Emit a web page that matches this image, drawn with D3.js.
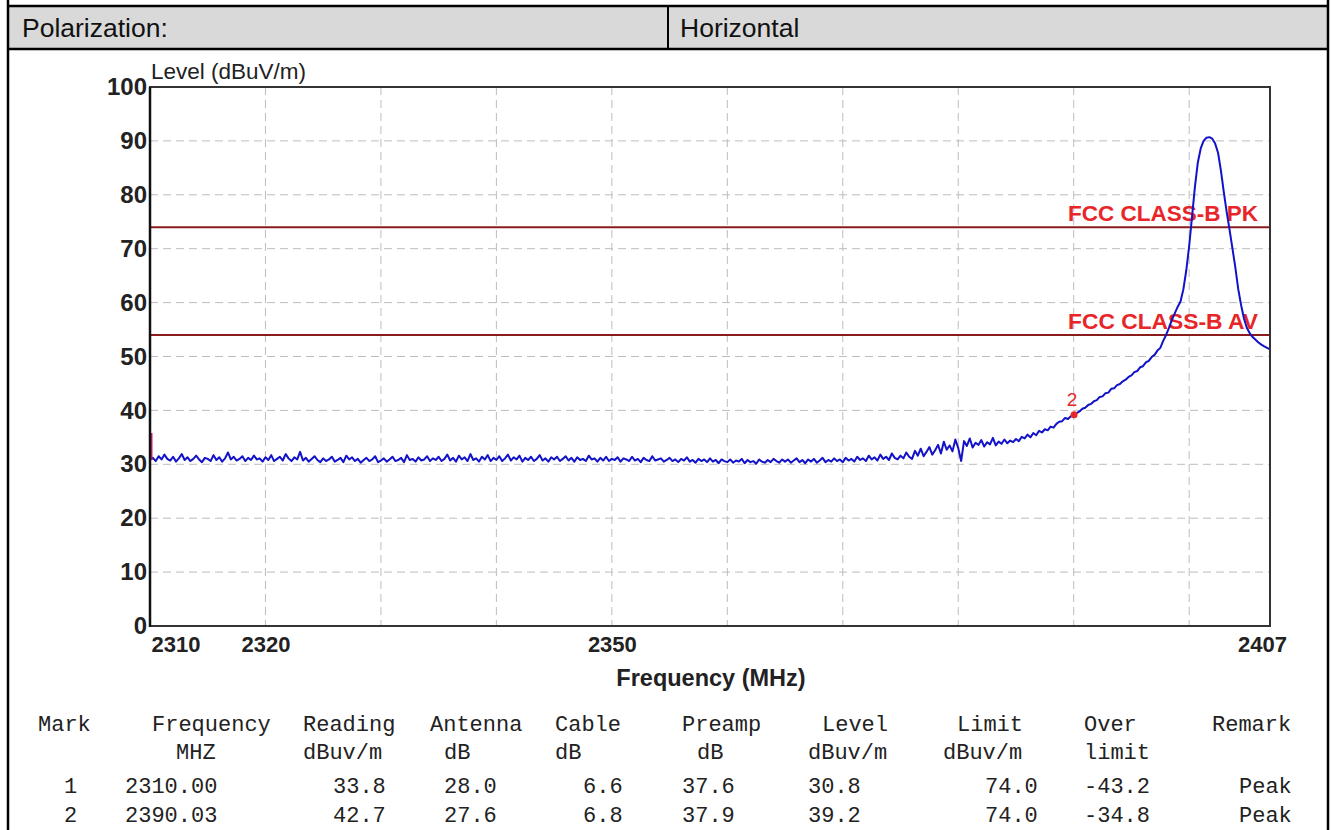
<!DOCTYPE html>
<html>
<head>
<meta charset="utf-8">
<script src="https://cdn.jsdelivr.net/npm/d3@7"></script>
<style>
  body { margin: 0; background: #fff; }
  svg { display: block; }
</style>
</head>
<body>
<svg id="chart" width="1334" height="830"></svg>
<script>
// sweep: 2310 .. 2407 MHz, one reading every 0.25 MHz
const sweepStart = 2310;
const sweepStep = 0.25;
const levels = [
  30.8, 31.2, 30.6, 31.5, 30.9, 31.8, 31.0, 30.7, 31.4, 30.5, 31.1, 31.9, 30.8, 31.3, 30.6, 31.0, 31.6, 30.9, 30.4, 31.2,
  31.0, 30.6, 31.7, 30.8, 31.3, 30.5, 31.1, 32.2, 30.9, 31.4, 30.7, 31.0, 31.5, 30.6, 31.2, 30.8, 31.6, 30.9, 31.1, 30.5,
  31.3, 30.8, 31.7, 30.6, 31.0, 31.4, 30.7, 31.9, 31.1, 30.6, 31.3, 30.9, 32.3, 30.7, 31.2, 30.5, 31.0, 31.5, 30.8, 30.4,
  31.1, 30.6, 30.9, 31.4, 30.5, 30.8, 31.2, 30.4, 31.6, 30.9, 31.3, 30.6, 31.0, 30.3, 30.8, 31.2, 30.6, 30.9, 31.5, 30.4,
  30.7, 31.1, 30.5, 30.9, 31.4, 30.6, 30.8, 31.2, 30.4, 31.7, 30.8, 31.0, 30.5, 31.3, 30.7, 30.9, 31.5, 30.6, 31.1, 30.8,
  31.4, 30.6, 31.0, 31.8, 30.7, 31.2, 30.5, 31.6, 30.9, 31.3, 30.6, 31.9, 30.8, 31.1, 30.5, 31.4, 30.9, 31.7, 30.6, 31.2,
  30.8, 31.5, 30.6, 31.1, 31.8, 30.7, 31.3, 30.9, 31.6, 30.5, 31.2, 30.8, 31.4, 30.6, 31.0, 31.7, 30.7, 31.1, 30.5, 31.3,
  30.9, 31.4, 30.6, 31.0, 31.5, 30.7, 31.2, 30.5, 31.3, 30.8, 31.0, 30.6, 31.6, 30.9, 31.1, 30.5, 31.2, 30.7, 31.4, 30.6,
  31.0, 30.8, 31.3, 30.5, 31.1, 30.9, 30.6, 31.4, 30.7, 31.0, 30.4, 31.2, 30.8, 30.6, 31.5, 30.7, 30.9, 31.1, 30.5, 30.8,
  31.2, 30.6, 30.9, 30.4, 31.0, 30.7, 31.3, 30.5, 30.8, 30.3, 31.0, 30.6, 30.9, 30.4, 31.1, 30.5, 30.8, 30.2, 30.9, 30.6,
  30.4, 30.9, 30.3, 30.7, 30.5, 31.0, 30.2, 30.8, 30.4, 30.6, 30.1, 30.9, 30.5, 30.3, 30.8, 30.4, 31.0, 30.6, 30.3, 30.9,
  30.5, 30.9, 30.3, 30.7, 31.1, 30.4, 30.8, 30.2, 30.9, 30.5, 31.0, 30.3, 30.7, 31.2, 30.4, 30.8, 30.5, 31.1, 30.6, 30.9,
  30.4, 31.2, 30.7, 31.0, 30.5, 31.4, 30.8, 31.1, 30.6, 31.6, 30.9, 31.3, 30.7, 31.8, 31.0, 31.4, 30.8, 32.0, 31.2, 30.9,
  31.6, 31.1, 32.2, 31.4, 31.0, 32.5, 31.6, 32.9, 31.5, 32.3, 33.2, 31.8, 32.6, 33.6, 32.0, 34.2, 32.7, 33.5, 32.4, 34.6,
  33.0, 30.6, 34.3, 33.4, 34.8, 33.1, 34.0, 33.6, 34.5, 33.3, 34.1, 33.7, 34.9, 33.5, 34.2, 33.8, 34.6, 33.9, 34.4, 34.1,
  34.7, 34.3, 35.1, 34.8, 35.5, 35.0, 35.8, 35.4, 36.2, 35.9, 36.5, 36.3, 37.0, 36.8, 37.5, 37.9, 38.0, 38.6, 38.4, 38.9,
  39.2, 39.5, 39.8, 40.3, 40.5, 41.0, 41.2, 41.7, 41.9, 42.5, 42.6, 43.2, 43.3, 44.0, 44.1, 44.7, 44.9, 45.4, 45.7, 46.2,
  46.5, 47.1, 47.3, 48.0, 48.2, 48.9, 49.2, 49.9, 50.3, 51.1, 51.6, 52.9,
  54.0, 55.3, 56.8, 58.0, 59.2, 60.2, 62.5, 66.0, 70.5, 76.0, 81.5, 86.0, 88.6, 90.0, 90.6, 90.7, 90.4, 89.5, 87.8, 84.5,
  80.5, 76.8, 73.5, 70.0, 66.5, 62.5, 59.5, 57.0, 55.3, 54.3, 53.6, 53.1, 52.6, 52.2, 51.9, 51.6, 51.3
];

const yTicks = [0, 10, 20, 30, 40, 50, 60, 70, 80, 90, 100];
const xGrid = [2320, 2330, 2340, 2350, 2360, 2370, 2380, 2390, 2400];
const xTickLabels = [2310, 2320, 2350, 2407];

const limitValues = [74, 54];
const limitNames = ["FCC CLASS-B PK", "FCC CLASS-B AV"];

const markFreq = [2310.00, 2390.03];
const markLevel = [30.8, 39.2];

const headerRow1 = ["Mark", "Frequency", "Reading", "Antenna", "Cable", "Preamp", "Level", "Limit", "Over", "Remark"];
const headerRow2 = ["", "MHZ", "dBuv/m", "dB", "dB", "dB", "dBuv/m", "dBuv/m", "limit", ""];
const tableRows = [
  ["1", "2310.00", "33.8", "28.0", "6.6", "37.6", "30.8", "74.0", "-43.2", "Peak"],
  ["2", "2390.03", "42.7", "27.6", "6.8", "37.9", "39.2", "74.0", "-34.8", "Peak"]
];

const svg = d3.select("#chart");
const W = 1334, H = 830;

// ---- report frame + header row
svg.append("rect").attr("x", 8).attr("y", 6).attr("width", 1320).attr("height", 43).attr("fill", "#d9d9d9");
const frame = svg.append("g").attr("stroke", "#000").attr("stroke-width", 2.5);
frame.append("line").attr("x1", 8).attr("x2", 8).attr("y1", 0).attr("y2", H);
frame.append("line").attr("x1", 1328).attr("x2", 1328).attr("y1", 0).attr("y2", H);
frame.append("line").attr("x1", 8).attr("x2", 1328).attr("y1", 6).attr("y2", 6);
frame.append("line").attr("x1", 8).attr("x2", 1328).attr("y1", 49).attr("y2", 49);
frame.append("line").attr("x1", 668).attr("x2", 668).attr("y1", 6).attr("y2", 49).attr("stroke-width", 2);

svg.append("text").attr("x", 22).attr("y", 37).text("Polarization:")
  .style("font", "26.5px 'Liberation Sans', Arial, sans-serif").attr("fill", "#111");
svg.append("text").attr("x", 680).attr("y", 37).text("Horizontal")
  .style("font", "26.5px 'Liberation Sans', Arial, sans-serif").attr("fill", "#111");

// ---- plot
const x = d3.scaleLinear().domain([2310, 2407]).range([150, 1270]);
const y = d3.scaleLinear().domain([0, 100]).range([626, 87]);

const grid = svg.append("g").attr("stroke", "#bdbdbd").attr("stroke-width", 1).attr("stroke-dasharray", "8,5");
grid.selectAll(".gy").data(yTicks.slice(1, -1)).enter().append("line")
  .attr("x1", x.range()[0]).attr("x2", x.range()[1])
  .attr("y1", d => y(d)).attr("y2", d => y(d));
grid.selectAll(".gx").data(xGrid).enter().append("line")
  .attr("x1", d => x(d)).attr("x2", d => x(d))
  .attr("y1", y.range()[1]).attr("y2", y.range()[0]);

// limit lines
svg.selectAll(".limit").data(limitValues).enter().append("line")
  .attr("x1", x.range()[0]).attr("x2", x.range()[1])
  .attr("y1", d => y(d)).attr("y2", d => y(d))
  .attr("stroke", "#8b1c1c").attr("stroke-width", 2);
svg.selectAll(".limitLabel").data(limitValues).enter().append("text")
  .attr("x", x.range()[1] - 12).attr("y", d => y(d) - 6)
  .attr("text-anchor", "end")
  .attr("textLength", 190).attr("lengthAdjust", "spacingAndGlyphs")
  .style("font", "bold 22px 'Liberation Sans', sans-serif")
  .attr("fill", "#e8262a")
  .text((d, i) => limitNames[i]);

// trace
svg.append("clipPath").attr("id", "plotClip").append("rect")
  .attr("x", 150).attr("y", 87).attr("width", 1120).attr("height", 539);
const line = d3.line()
  .x((d, i) => x(sweepStart + i * sweepStep))
  .y(d => y(d));
svg.append("path").datum(levels)
  .attr("clip-path", "url(#plotClip)")
  .attr("fill", "none").attr("stroke", "#1212c8").attr("stroke-width", 2)
  .attr("stroke-linejoin", "round")
  .attr("d", line);

// markers
svg.append("line")
  .attr("x1", x(markFreq[0]) + 1).attr("x2", x(markFreq[0]) + 1)
  .attr("y1", y(markLevel[0])).attr("y2", y(markLevel[0]) - 27)
  .attr("stroke", "#d81b7a").attr("stroke-width", 3);
svg.append("circle").attr("cx", x(markFreq[1])).attr("cy", y(markLevel[1])).attr("r", 3.5).attr("fill", "#e8262a");
svg.append("text").attr("x", x(markFreq[1]) - 2).attr("y", y(markLevel[1]) - 9)
  .attr("text-anchor", "middle").attr("fill", "#e8262a")
  .style("font", "19px 'Liberation Sans', Arial, sans-serif").text("2");

// frame of plot
svg.append("rect").attr("x", 150).attr("y", 87).attr("width", 1120).attr("height", 539)
  .attr("fill", "none").attr("stroke", "#333").attr("stroke-width", 2);
svg.append("line").attr("x1", 150).attr("x2", 150).attr("y1", 87).attr("y2", 627)
  .attr("stroke", "#111").attr("stroke-width", 2.5);

// axes labels
const yAxis = svg.append("g").attr("transform", "translate(150,0)")
  .call(d3.axisLeft(y).tickValues(yTicks).tickSize(0).tickPadding(3));
yAxis.select(".domain").remove();
yAxis.selectAll("text")
  .style("font", "bold 24px 'Liberation Sans', Arial, sans-serif").attr("fill", "#222");

const xAxis = svg.append("g").attr("transform", "translate(0,626)")
  .call(d3.axisBottom(x).tickValues(xTickLabels).tickSize(0).tickPadding(10).tickFormat(d3.format("d")));
xAxis.select(".domain").remove();
xAxis.selectAll("text")
  .style("font", "bold 22px 'Liberation Sans', Arial, sans-serif").attr("fill", "#222")
  .attr("text-anchor", d => d === 2310 ? "start" : "middle")
  .attr("dx", d => d === 2310 ? 1 : (d === 2407 ? -8 : 0));

svg.append("text").attr("x", 151).attr("y", 79).text("Level (dBuV/m)")
  .style("font", "22.5px 'Liberation Sans', Arial, sans-serif").attr("fill", "#222");
svg.append("text").attr("x", 711).attr("y", 686).attr("text-anchor", "middle").text("Frequency (MHz)")
  .style("font", "bold 23.5px 'Liberation Sans', Arial, sans-serif").attr("fill", "#222");

// ---- marker table
const colX1 = [38, 152, 303, 430, 555, 682, 822, 957, 1084, 1212];
const colX2 = [38, 176, 303, 444, 555, 697, 808, 943, 1084, 1212];
const colXr = [64, 125, 333, 444, 583, 682, 808, 985, 1084, 1239];
const table = svg.append("g")
  .style("font", "22px 'Liberation Mono', 'Courier New', monospace").attr("fill", "#222");
function tableLine(cells, xs, yy) {
  table.selectAll(null).data(cells).enter().append("text")
    .attr("x", (d, i) => xs[i]).attr("y", yy).text(d => d);
}
tableLine(headerRow1, colX1, 731);
tableLine(headerRow2, colX2, 759);
tableRows.forEach((r, k) => tableLine(r, colXr, 793 + k * 29));
</script>
</body>
</html>
